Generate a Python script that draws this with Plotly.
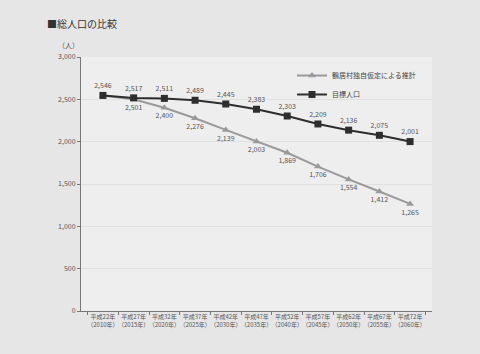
import plotly.graph_objects as go

categories = ["平成22年<br>（2010年）", "平成27年<br>（2015年）", "平成32年<br>（2020年）", "平成37年<br>（2025年）",
              "平成42年<br>（2030年）", "平成47年<br>（2035年）", "平成52年<br>（2040年）", "平成57年<br>（2045年）",
              "平成62年<br>（2050年）", "平成67年<br>（2055年）", "平成72年<br>（2060年）"]
estimate = [2546, 2501, 2400, 2276, 2139, 2003, 1869, 1706, 1554, 1412, 1265]
target = [2546, 2517, 2511, 2489, 2445, 2383, 2303, 2209, 2136, 2075, 2001]
estimate_name = "鶴居村独自仮定による推計"
target_name = "目標人口"

FONT = "Noto Sans CJK JP"

est_labels = [""] + [f"{v:,}" for v in estimate[1:]]
tgt_labels = [f"{v:,}" for v in target]

L, R, T, B = 81, 48, 57, 43
pw = 480 - L - R
ph = 354 - T - B

fig = go.Figure()
fig.add_trace(go.Scatter(
    x=categories, y=estimate, name=estimate_name, mode="lines+markers+text",
    line=dict(color="#9a9a9a", width=2), marker=dict(symbol="triangle-up", size=7, color="#9a9a9a"),
    text=est_labels, textposition="bottom center",
    textfont=dict(family=FONT, size=7, color="#555555"),
))
fig.add_trace(go.Scatter(
    x=categories, y=target, name=target_name, mode="lines+markers+text",
    line=dict(color="#2e2e2e", width=2), marker=dict(symbol="square", size=7, color="#2e2e2e"),
    text=tgt_labels, textposition="top center",
    textfont=dict(family=FONT, size=7, color="#555555"),
))

fig.update_layout(
    width=480, height=354,
    margin=dict(l=L, r=R, t=T, b=B),
    paper_bgcolor="#e6e6e6", plot_bgcolor="#eeeeee",
    font=dict(family=FONT, size=7, color="#555555"),
    showlegend=True,
    legend=dict(x=(292 - L) / pw, y=1 - (61 - T) / ph, xanchor="left", yanchor="top", bgcolor="rgba(0,0,0,0)",
                font=dict(family=FONT, size=7, color="#444444"), tracegroupgap=2, itemwidth=30),
    xaxis=dict(type="category", showline=True, linecolor="#777777", linewidth=1,
               ticks="outside", ticklen=3, tickcolor="#777777", tickson="boundaries", tickangle=0,
               showgrid=False, tickfont=dict(family=FONT, size=6, color="#555555"), fixedrange=True),
    yaxis=dict(range=[0, 3000], dtick=500, tickformat=",", showline=True, linecolor="#777777", linewidth=1,
               ticks="outside", ticklen=3, tickcolor="#777777",
               showgrid=True, gridcolor="#e0e0e0", gridwidth=1, zeroline=False,
               tickfont=dict(family=FONT, size=7, color="#555555"), fixedrange=True),
    annotations=[
        dict(text="■総人口の比較", xref="paper", yref="paper",
             x=(45 - L) / pw, y=(354 - B - 23) / ph, showarrow=False,
             font=dict(family=FONT, size=10, color="#333333"), xanchor="left", yanchor="middle"),
        dict(text="（人）", xref="paper", yref="paper",
             x=(68 - L) / pw, y=(354 - B - 45) / ph, showarrow=False,
             font=dict(family=FONT, size=7, color="#555555"), xanchor="center", yanchor="middle"),
    ],
)

fig.write_html("out.html")
